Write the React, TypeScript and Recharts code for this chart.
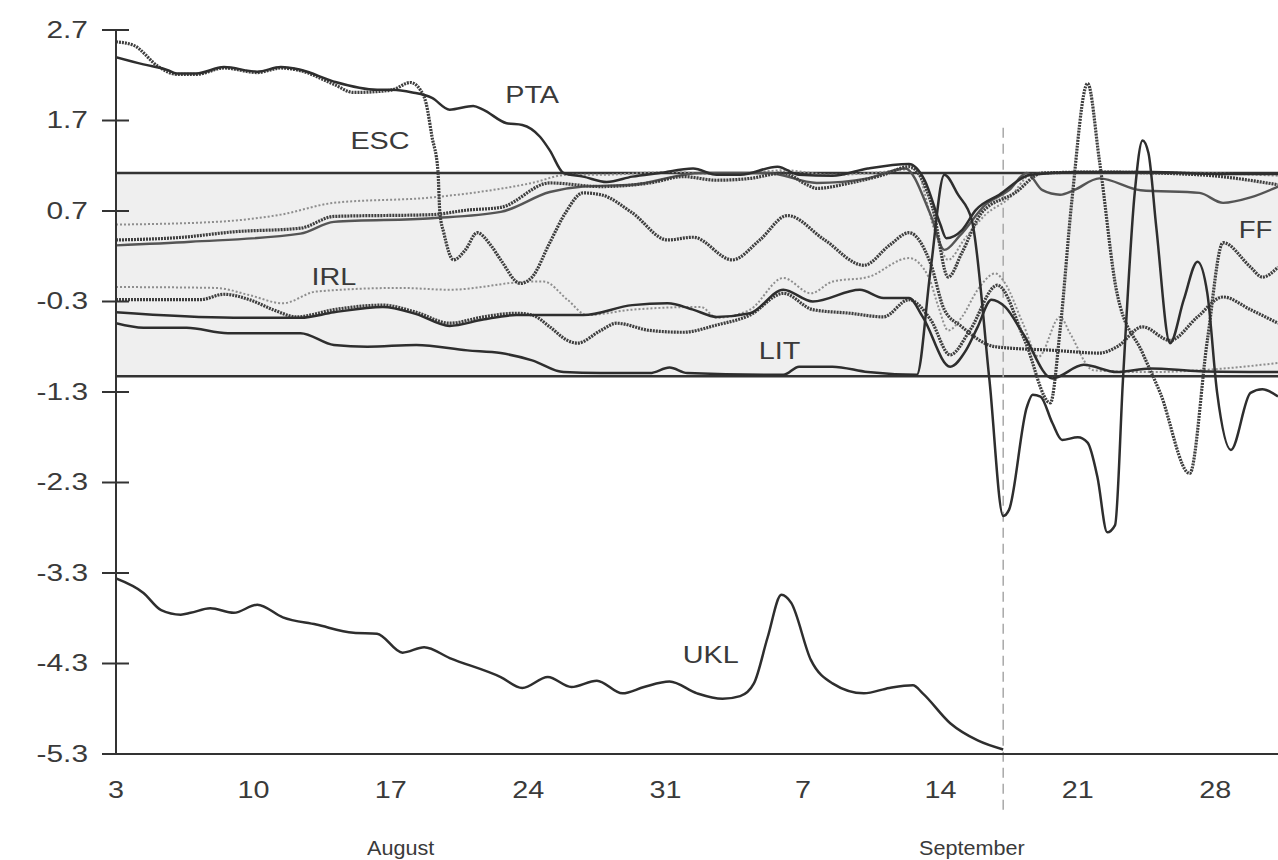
import React from 'react';
import { LineChart, Line, XAxis, YAxis, ReferenceLine, ReferenceArea, ReferenceDot } from 'recharts';

// ---- axes ----
const xTickDays = [0, 7, 14, 21, 28, 35, 42, 49, 56];
const xTickLabels = ['3', '10', '17', '24', '31', '7', '14', '21', '28'];
const yTicks = [2.7, 1.7, 0.7, -0.3, -1.3, -2.3, -3.3, -4.3, -5.3];
const bandUpper = 1.12;
const bandLower = -1.125;
const crisisDay = 45.2;

// ---- series: [day since 3 August, value] ----
const PTA: [number, number][] = [[0,2.40],[1.4,2.32],[2.6,2.26],[3.1,2.22],[4.1,2.22],[5.5,2.29],[7.2,2.24],[8.4,2.29],[9.4,2.26],[11.1,2.13],[13.3,2.04],[14.1,2.04],[15.1,2.01],[16.1,1.95],[17.0,1.82],[18.2,1.86],[18.7,1.82],[19.9,1.67],[20.7,1.65],[21.6,1.52],[22.1,1.37],[22.8,1.12],[23.8,1.08],[25.0,1.02],[26.3,1.08],[27.7,1.12],[29.4,1.17],[30.6,1.10],[31.8,1.10],[33.7,1.19],[34.8,1.10],[36.5,1.09],[38.3,1.17],[40.4,1.22],[41.2,1.04],[42.0,0.55],[42.3,0.40],[43.1,0.49],[43.8,0.71],[45.0,0.88],[46.6,1.10],[49.1,1.13],[52.7,1.13],[56.2,1.11],[59.2,1.11]];

const ESC: [number, number][] = [[0,2.57],[0.9,2.53],[2.2,2.29],[3.1,2.21],[4.1,2.21],[5.5,2.28],[7.2,2.23],[8.4,2.28],[9.4,2.25],[11.1,2.10],[12.1,2.01],[13.3,2.02],[14.1,2.04],[15.0,2.12],[15.5,2.04],[15.8,1.89],[16.1,1.52],[16.4,1.15],[16.5,0.68],[16.7,0.46],[17.2,0.16],[17.8,0.27],[18.4,0.46],[19.1,0.32],[19.6,0.16],[20.6,-0.10],[21.2,-0.03],[22.1,0.35],[22.9,0.68],[23.8,0.90],[24.7,0.88],[26.3,0.68],[28.1,0.38],[29.4,0.41],[31.4,0.16],[32.8,0.38],[34.2,0.65],[36.1,0.38],[38.1,0.10],[39.4,0.32],[40.4,0.46],[41.5,0.12],[42.2,-0.39],[43.1,-0.58],[44.8,-0.80],[47.8,-0.84],[50.1,-0.87],[51.0,-0.80],[52.3,-0.58],[53.7,-0.73],[55.1,-0.47],[56.4,-0.25],[57.8,-0.39],[59.2,-0.54]];

const DM: [number, number][] = [[0,0.55],[5.1,0.58],[8.4,0.66],[11.1,0.79],[16.1,0.85],[21.2,1.01],[23.0,1.10],[24.7,1.10],[28.1,1.13],[31.4,1.10],[34.0,1.15],[36.5,1.10],[39.9,1.15],[40.7,1.17],[41.7,0.49],[42.4,0.16],[43.2,0.38],[44.3,0.66],[45.5,0.84],[46.6,1.10],[48.1,1.13],[52.7,1.13],[59.2,1.09]];

const HFL: [number, number][] = [[0,0.38],[3.4,0.41],[6.0,0.47],[9.4,0.51],[11.1,0.64],[16.1,0.66],[17.9,0.71],[19.6,0.74],[22.1,1.01],[24.7,0.97],[27.2,1.01],[28.9,1.08],[30.6,1.04],[32.3,1.06],[34.0,1.12],[35.2,0.99],[35.7,0.95],[37.4,1.01],[39.1,1.10],[40.4,1.19],[41.6,0.74],[42.4,-0.03],[43.1,0.24],[44.1,0.68],[45.8,0.90],[47.2,1.12],[50.1,1.13],[55.2,1.10],[59.2,0.99]];

const BFR: [number, number][] = [[0,0.32],[3.8,0.36],[9.4,0.45],[11.1,0.58],[16.1,0.62],[19.6,0.69],[22.1,0.91],[23.8,0.97],[26.3,0.99],[29.8,1.12],[33.2,1.12],[35.7,1.01],[38.3,1.06],[40.2,1.17],[41.5,0.66],[42.2,0.27],[43.0,0.43],[44.3,0.77],[45.5,0.93],[46.4,1.12],[47.2,0.93],[48.1,0.88],[48.8,0.93],[50.1,1.06],[52.2,0.93],[55.2,0.90],[56.4,0.79],[57.8,0.85],[59.2,0.97]];

const IRL: [number, number][] = [[0,-0.14],[5.1,-0.15],[6.8,-0.23],[8.5,-0.32],[10.2,-0.19],[14.5,-0.15],[17.0,-0.17],[21.2,-0.08],[21.8,-0.08],[23.0,-0.28],[24.0,-0.45],[26.3,-0.39],[29.8,-0.36],[30.6,-0.48],[32.3,-0.39],[34.0,-0.04],[35.4,-0.21],[36.5,-0.08],[38.3,-0.03],[40.4,0.18],[41.4,-0.03],[41.9,-0.36],[42.4,-0.62],[43.1,-0.47],[43.9,-0.17],[44.8,0.01],[45.3,-0.10],[46.2,-0.54],[47.0,-0.91],[48.1,-0.47],[48.6,-0.65],[49.8,-1.06],[52.7,-1.08],[55.2,-1.06],[59.2,-0.98]];

const FF: [number, number][] = [[0,-0.28],[4.3,-0.28],[5.5,-0.22],[6.8,-0.28],[8.0,-0.39],[9.2,-0.47],[11.1,-0.39],[13.6,-0.34],[15.3,-0.42],[17.0,-0.54],[18.7,-0.47],[20.4,-0.43],[21.2,-0.45],[22.1,-0.58],[23.0,-0.73],[23.5,-0.76],[24.7,-0.62],[25.5,-0.54],[27.2,-0.62],[28.9,-0.64],[30.6,-0.56],[32.3,-0.45],[34.0,-0.21],[35.5,-0.39],[37.4,-0.43],[39.1,-0.47],[40.4,-0.28],[41.5,-0.50],[42.5,-0.89],[43.5,-0.62],[44.9,-0.12],[46.3,-0.73],[47.6,-1.42],[48.1,-0.61],[48.7,0.82],[49.5,2.11],[50.1,1.26],[51.0,-0.21],[52.3,-0.87],[53.2,-1.31],[54.7,-2.20],[55.6,-0.73],[56.4,0.35],[57.8,0.08],[58.4,-0.03],[59.2,0.08]];

const DKR: [number, number][] = [[0,-0.42],[6.0,-0.48],[9.4,-0.48],[11.1,-0.42],[13.6,-0.36],[15.3,-0.44],[17.0,-0.57],[18.7,-0.50],[20.4,-0.45],[23.8,-0.45],[26.3,-0.34],[28.1,-0.32],[29.4,-0.39],[30.6,-0.47],[32.3,-0.43],[34.0,-0.17],[35.5,-0.30],[37.9,-0.17],[39.1,-0.26],[40.4,-0.26],[41.1,-0.47],[42.5,-1.02],[43.3,-0.84],[43.9,-0.58],[44.6,-0.28],[45.3,-0.36],[46.2,-0.65],[47.7,-1.15],[49.3,-1.00],[51.0,-1.08],[52.7,-1.04],[55.2,-1.07],[59.2,-1.08]];

const LIT: [number, number][] = [[0,-0.54],[1.4,-0.59],[3.6,-0.59],[5.7,-0.65],[9.4,-0.65],[11.1,-0.78],[12.8,-0.80],[15.3,-0.78],[17.9,-0.84],[19.6,-0.87],[21.2,-0.95],[22.8,-1.08],[24.7,-1.09],[27.2,-1.09],[28.2,-1.03],[29.1,-1.09],[34.0,-1.11],[34.8,-1.02],[36.5,-1.02],[38.3,-1.08],[40.8,-1.11],[41.5,0.05],[42.2,1.10],[42.9,0.88],[43.6,0.60],[44.5,-1.17],[45.2,-2.67],[45.5,-2.60],[46.4,-1.47],[46.7,-1.33],[47.1,-1.35],[47.7,-1.64],[48.2,-1.83],[49.0,-1.80],[49.5,-1.86],[50.0,-2.24],[50.5,-2.85],[50.9,-2.77],[51.3,-1.17],[51.9,0.90],[52.3,1.48],[52.6,1.34],[53.0,0.52],[53.7,-0.76],[54.4,-0.28],[55.1,0.14],[55.6,-0.21],[56.1,-1.31],[56.8,-1.94],[57.8,-1.31],[58.4,-1.27],[59.2,-1.35]];

const UKL: [number, number][] = [[0,-3.36],[1.4,-3.52],[2.3,-3.71],[3.3,-3.76],[3.8,-3.74],[4.8,-3.69],[6.0,-3.74],[7.2,-3.65],[8.5,-3.79],[10.2,-3.87],[12.1,-3.96],[13.3,-3.97],[14.6,-4.18],[15.7,-4.12],[17.0,-4.24],[19.6,-4.45],[20.7,-4.57],[22.0,-4.45],[23.2,-4.56],[24.5,-4.49],[25.8,-4.63],[26.9,-4.56],[28.2,-4.50],[29.6,-4.63],[30.9,-4.69],[31.8,-4.66],[32.5,-4.52],[33.2,-4.01],[33.9,-3.54],[34.4,-3.63],[35.4,-4.26],[36.5,-4.52],[38.1,-4.63],[39.4,-4.57],[40.6,-4.54],[41.1,-4.63],[42.5,-4.96],[43.9,-5.15],[45.2,-5.25]];

// in-chart annotations: [text, day, value]
const seriesLabels: [string, number, number][] = [
  ['PTA', 21.2, 1.98],
  ['ESC', 13.45, 1.48],
  ['IRL', 11.1, -0.03],
  ['LIT', 33.8, -0.84],
  ['UKL', 30.3, -4.2],
];
const ffLabel: [string, number, number] = ['FF', 57.2, 0.49];
const monthLabels: [string, number, number][] = [
  ['August', 14.5, -6.34],
  ['September', 43.6, -6.34],
];

const toPts = (arr: [number, number][]) => arr.map(([d, v]) => ({ d, v }));

const SOLID = { stroke: '#2e2e2e', strokeWidth: 2.5 };
const MIDSOLID = { stroke: '#555555', strokeWidth: 2.4 };
const DITHER = { stroke: '#3f3f3f', strokeWidth: 3.2, strokeDasharray: '2 1' };
const LIGHT = { stroke: '#8e8e8e', strokeWidth: 2, strokeDasharray: '2 2' };

const seriesList: { name: string; pts: [number, number][]; style: any }[] = [
  { name: 'DM', pts: DM, style: LIGHT },
  { name: 'IRL', pts: IRL, style: LIGHT },
  { name: 'BFR', pts: BFR, style: MIDSOLID },
  { name: 'HFL', pts: HFL, style: DITHER },
  { name: 'FF', pts: FF, style: DITHER },
  { name: 'ESC', pts: ESC, style: DITHER },
  { name: 'DKR', pts: DKR, style: SOLID },
  { name: 'LIT', pts: LIT, style: SOLID },
  { name: 'PTA', pts: PTA, style: SOLID },
  { name: 'UKL', pts: UKL, style: SOLID },
];

const FONT = '"Liberation Sans", Arial, Helvetica, sans-serif';
const TEXT = '#3a3a3a';

const YTick = (props: any) => {
  const { x, y, payload } = props;
  return (
    <g>
      <line x1={x - 14} x2={x + 13} y1={y} y2={y} stroke="#333" strokeWidth={2} />
      <text
        transform={`translate(${x - 28},${y}) scale(1.3,1)`}
        textAnchor="end"
        dominantBaseline="central"
        fontFamily={FONT}
        fontSize={23}
        fill={TEXT}
      >
        {Number(payload.value).toFixed(1)}
      </text>
    </g>
  );
};

const XTick = (props: any) => {
  const { x, y, payload, index } = props;
  const i = xTickDays.indexOf(payload.value);
  const label = i >= 0 ? xTickLabels[i] : xTickLabels[index];
  return (
    <text
      transform={`translate(${x},${y + 36}) scale(1.25,1)`}
      textAnchor="middle"
      dominantBaseline="central"
      fontFamily={FONT}
      fontSize={23}
      fill={TEXT}
    >
      {label}
    </text>
  );
};

const makeLabel = (text: string, anchor: string, size: number, sx: number) => (props: any) => {
  const vb = props.viewBox || {};
  const cx = (vb.x || 0) + (vb.width || 0) / 2;
  const cy = (vb.y || 0) + (vb.height || 0) / 2;
  return (
    <text
      transform={`translate(${cx},${cy}) scale(${sx},1)`}
      textAnchor={anchor}
      dominantBaseline="central"
      fontFamily={FONT}
      fontSize={size}
      fill={TEXT}
    >
      {text}
    </text>
  );
};

export default function App() {
  return (
    <div style={{ position: 'absolute', left: 0, top: 0, width: 1278, height: 860, background: '#ffffff', overflow: 'hidden' }}>
      <LineChart width={1278} height={860} margin={{ top: 30, right: 0, bottom: 30, left: 26 }}>
        <ReferenceArea y1={bandLower} y2={bandUpper} fill="#efefef" fillOpacity={1} stroke="none" ifOverflow="hidden" />
        <XAxis
          dataKey="d"
          type="number"
          domain={[0, 59.2]}
          ticks={xTickDays}
          allowDataOverflow
          height={76}
          tickSize={0}
          tickMargin={0}
          tickLine={false}
          axisLine={{ stroke: '#333', strokeWidth: 2 }}
          tick={<XTick />}
          interval={0}
        />
        <YAxis
          type="number"
          domain={[-5.3, 2.7]}
          ticks={yTicks}
          allowDataOverflow
          width={90}
          tickSize={0}
          tickMargin={0}
          tickLine={false}
          axisLine={{ stroke: '#333', strokeWidth: 2 }}
          tick={<YTick />}
          interval={0}
        />
        <ReferenceLine y={bandUpper} stroke="#333" strokeWidth={2.5} />
        <ReferenceLine y={bandLower} stroke="#333" strokeWidth={2.5} />
        <ReferenceLine
          segment={[{ x: crisisDay, y: 1.62 }, { x: crisisDay, y: -5.95 }]}
          stroke="#a8a8a8"
          strokeWidth={1.5}
          strokeDasharray="10 6"
          ifOverflow="visible"
        />
        {seriesList.map((s) => (
          <Line
            key={s.name}
            name={s.name}
            data={toPts(s.pts)}
            dataKey="v"
            type="monotone"
            dot={false}
            activeDot={false}
            isAnimationActive={false}
            {...s.style}
          />
        ))}
        {seriesLabels.map(([t, d, v]) => (
          <ReferenceDot key={t} x={d} y={v} r={1} fill="none" stroke="none" ifOverflow="visible" label={{ content: makeLabel(t, 'middle', 24, 1.2) }} />
        ))}
        <ReferenceDot x={ffLabel[1]} y={ffLabel[2]} r={1} fill="none" stroke="none" ifOverflow="visible" label={{ content: makeLabel(ffLabel[0], 'start', 24, 1.15) }} />
        {monthLabels.map(([t, d, v]) => (
          <ReferenceDot key={t} x={d} y={v} r={1} fill="none" stroke="none" ifOverflow="visible" label={{ content: makeLabel(t, 'middle', 20, 1.08) }} />
        ))}
      </LineChart>
    </div>
  );
}
